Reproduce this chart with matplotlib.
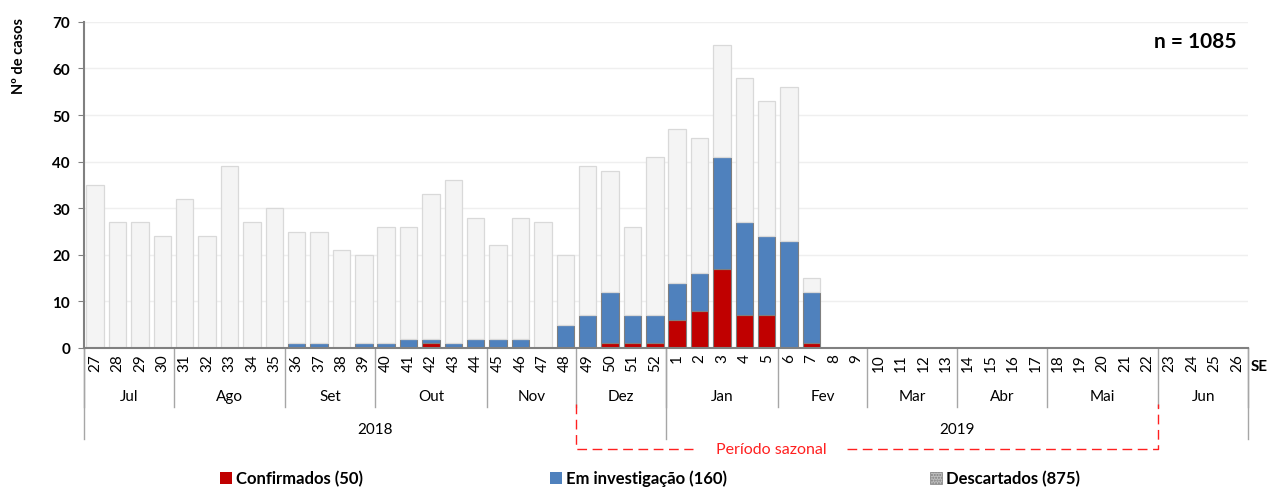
import matplotlib
matplotlib.use("Agg")
import matplotlib.pyplot as plt
import matplotlib.transforms as mtransforms
from matplotlib.patches import Rectangle
import numpy as np

plt.rcParams['font.family'] = ['Lato', 'DejaVu Sans']
plt.rcParams['hatch.color'] = '#7f7f7f'

weeks = [str(w) for w in list(range(27, 53)) + list(range(1, 27))]
totals = [35, 27, 27, 24, 32, 24, 39, 27, 30, 25, 25, 21, 20, 26, 26, 33, 36, 28,
          22, 28, 27, 20, 39, 38, 26, 41, 47, 45, 65, 58, 53, 56, 15] + [0] * 19
confirmados = [0] * 15 + [1] + [0] * 7 + [1, 1, 1, 6, 8, 17, 7, 7, 0, 1] + [0] * 19
investigacao = [0] * 9 + [1, 1, 0, 1, 1, 2, 1, 1, 2, 2, 2, 0, 5, 7, 11, 6, 6,
                8, 8, 24, 20, 17, 23, 11] + [0] * 19
descartados = [t - c - i for t, c, i in zip(totals, confirmados, investigacao)]

months = ["Jul", "Ago", "Set", "Out", "Nov", "Dez", "Jan", "Fev", "Mar", "Abr", "Mai", "Jun"]
month_sizes = [4, 5, 4, 5, 4, 4, 5, 4, 4, 4, 5, 4]
years = ["2018", "2019"]
year_sizes = [26, 26]
legend_labels = ["Confirmados (50)", "Em investigação (160)", "Descartados (875)"]

c_red = '#c00000'
c_blue = '#4f81bd'
c_light = '#f4f4f4'

fig = plt.figure(figsize=(12.67, 4.89), dpi=100)
ax = fig.add_axes([0.0663, 0.2863, 0.9187, 0.667])

x = np.arange(len(weeks))
conf = np.array(confirmados)
inv = np.array(investigacao)
desc = np.array(descartados)
w = 0.78
ax.bar(x, conf, w, color=c_red, edgecolor='#7f7f7f',
       linewidth=np.where(conf > 0, 0.8, 0.0), zorder=3)
ax.bar(x, inv, w, bottom=conf, color=c_blue, edgecolor='#7f7f7f',
       linewidth=np.where(inv > 0, 0.8, 0.0), zorder=3)
ax.bar(x, desc, w, bottom=conf + inv, color=c_light, edgecolor='#d9d9d9',
       linewidth=np.where(desc > 0, 0.9, 0.0), zorder=3)

ax.set_xlim(-0.5, len(weeks) - 0.5)
ax.set_ylim(0, 70)
ax.set_yticks(range(0, 71, 10))
ax.yaxis.grid(True, color='#efefef', linewidth=1.0, zorder=0)
ax.set_axisbelow(True)
for lbl in ax.get_yticklabels():
    lbl.set_fontweight('bold')
    lbl.set_fontsize(11)
ax.tick_params(axis='y', length=4, color='#808080', pad=6)
ax.set_xticks(x)
ax.set_xticklabels(weeks, rotation=90, fontsize=11)
ax.tick_params(axis='x', length=0, pad=4)
for s in ['top', 'right']:
    ax.spines[s].set_visible(False)
ax.spines['left'].set_color('#808080')
ax.spines['left'].set_linewidth(1.5)
ax.spines['bottom'].set_color('#808080')
ax.spines['bottom'].set_linewidth(1.5)
ax.spines['bottom'].set_zorder(5)
ax.spines['left'].set_zorder(5)

trans = mtransforms.blended_transform_factory(ax.transData, ax.transAxes)

# month separators and labels
pos = -0.5
for m, n in zip(months, month_sizes):
    ax.plot([pos, pos], [0, -0.181], transform=trans, color='#a6a6a6', lw=1, clip_on=False)
    ax.text(pos + n / 2, -0.147, m, transform=trans, ha='center', va='center', fontsize=11)
    pos += n
ax.plot([pos, pos], [0, -0.181], transform=trans, color='#a6a6a6', lw=1, clip_on=False)

pos = -0.5
for yname, n in zip(years, year_sizes):
    ax.plot([pos, pos], [0, -0.279], transform=trans, color='#a6a6a6', lw=1, clip_on=False)
    ax.text(pos + n / 2, -0.248, yname, transform=trans, ha='center', va='center', fontsize=11)
    pos += n
ax.plot([pos, pos], [0, -0.279], transform=trans, color='#a6a6a6', lw=1, clip_on=False)

# seasonal period bracket
x0 = 21.5
x1 = 47.5
ytop = -0.172
ybot = -0.31
dash = dict(transform=trans, color='#ff2020', lw=1, ls=(0, (7, 4)), clip_on=False)
ax.plot([x0, x0, 26.7], [ytop, ybot, ybot], **dash)
ax.plot([33.6, x1, x1], [ybot, ybot, ytop], **dash)
ax.text(30.2, ybot, "Período sazonal", transform=trans, ha='center', va='center',
        fontsize=11.5, color='#ff2020')

ax.text(len(weeks) - 0.5 + 0.1, -0.055, "SE", transform=trans, ha='left', va='center',
        fontsize=11, fontweight='bold')

ax.text(0.99, 0.94, "n = 1085", transform=ax.transAxes, ha='right', va='center',
        fontsize=15, fontweight='bold')

fig.text(0.015, 0.885, "Nº de casos", rotation=90, ha='center', va='center',
         fontsize=10.5, fontweight='bold')

# legend
leg_y = 479
H = 489
items = [(220, c_red, None), (550, c_blue, None), (930, '#bfbfbf', '......')]
for (px, col, hatch), lab in zip(items, legend_labels):
    r = Rectangle((px / 1267, (H - leg_y - 6) / H), 12 / 1267, 12 / H, transform=fig.transFigure,
                  facecolor=col, edgecolor='#7f7f7f' if hatch else 'none', hatch=hatch, lw=0.5)
    fig.patches.append(r)
    fig.text((px + 16) / 1267, (H - leg_y) / H, lab, ha='left', va='center',
             fontsize=12, fontweight='bold')

fig.savefig("out.png", dpi=100)
